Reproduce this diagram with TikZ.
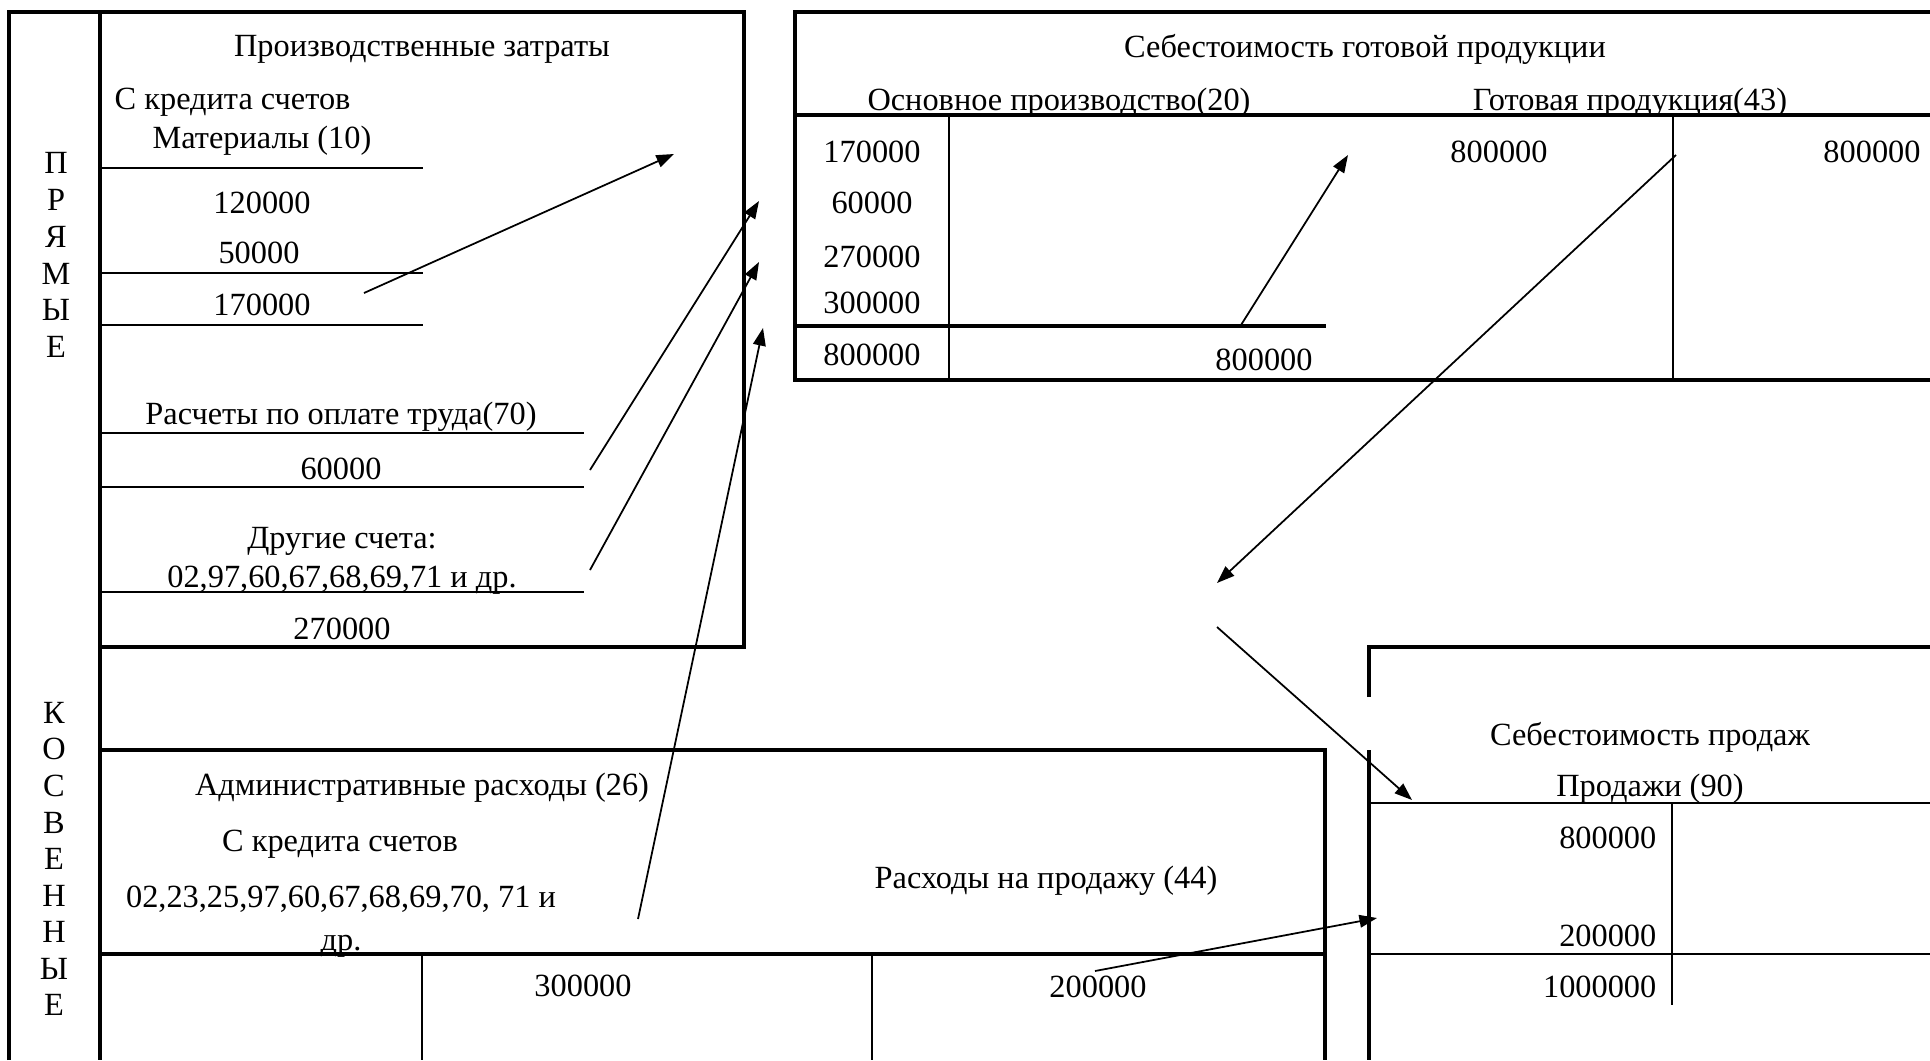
\documentclass[tikz,border=0pt]{standalone}
\usepackage{fontspec}
\setmainfont{Liberation Serif}
\usetikzlibrary{arrows.meta}

\begin{document}
\begin{tikzpicture}[x=0.01cm, y=-0.01cm,
  frame/.style={line width=0.9pt},
  rule/.style={line width=0.65pt},
  thin/.style={line width=0.45pt},
  flow/.style={line width=0.5pt, -{Triangle[length=5pt,width=3.6pt]}},
  txt/.style={inner sep=0pt, font=\fontsize{9.2}{10.5}\selectfont}]
\useasboundingbox (0,0) rectangle (1930,1060);

% frames
\draw[frame] (9,1060) -- (9,12) -- (744,12) -- (744,647) -- (100,647);
\draw[frame] (100,12) -- (100,1060);
\draw[frame] (100,750) -- (1325,750) -- (1325,1060);
\draw[frame] (100,954) -- (1325,954);
\draw[frame] (1930,12) -- (795,12) -- (795,380) -- (1930,380);
\draw[frame] (795,115) -- (1930,115);
\draw[frame] (795,326) -- (1326,326);
\draw[frame] (1369,697) -- (1369,647) -- (1930,647);
\draw[frame] (1369,750) -- (1369,1060);

% inner rules
\draw[rule] (100,168) -- (423,168);
\draw[rule] (100,273) -- (423,273);
\draw[rule] (100,325) -- (423,325);
\draw[rule] (100,433) -- (584,433);
\draw[rule] (100,487) -- (584,487);
\draw[rule] (100,592) -- (584,592);
\draw[rule] (1369,803) -- (1930,803);
\draw[rule] (1369,954) -- (1930,954);
\draw[rule] (1672,803) -- (1672,1005);
\draw[thin] (422,954) -- (422,1060);
\draw[thin] (872,954) -- (872,1060);
\draw[thin] (949,115) -- (949,380);
\draw[thin] (1673,115) -- (1673,380);

% side labels
\node[txt, align=center, font=\fontsize{9.2}{10.47}\selectfont] (direct) at (56,255) {П\\Р\\Я\\М\\Ы\\Е};
\node[txt, align=center, font=\fontsize{9.2}{10.4}\selectfont] (indirect) at (54,859) {К\\О\\С\\В\\Е\\Н\\Н\\Ы\\Е};

% production costs
\node[txt] (prod) at (422,49) {Производственные затраты};
\node[txt, anchor=west] (credit) at (114,102) {С кредита счетов};
\node[txt] (mat) at (262,141) {Материалы (10)};
\node[txt] (mat1) at (262,203) {120000};
\node[txt] (mat2) at (259,253) {50000};
\node[txt] (mat3) at (262,305) {170000};
\node[txt] (pay) at (341,417) {Расчеты по оплате труда(70)};
\node[txt] (pay1) at (341,469) {60000};
\node[txt, align=center, font=\fontsize{9.2}{11.1}\selectfont] (other) at (342,561) {Другие счета:\\02,97,60,67,68,69,71 и др.};
\node[txt] (other1) at (342,629) {270000};

% administrative and selling expenses
\node[txt] (adm) at (422,788) {Административные расходы (26)};
\node[txt] (admcr) at (340,844) {С кредита счетов};
\node[txt, align=center, font=\fontsize{9.2}{12.2}\selectfont] (admacc) at (341,922) {02,23,25,97,60,67,68,69,70, 71 и\\др.};
\node[txt] (sell) at (1046,881) {Расходы на продажу (44)};
\node[txt] (adm1) at (583,986) {300000};
\node[txt] (sell1) at (1098,987) {200000};

% cost of finished goods
\node[txt] (cfg) at (1365,49) {Себестоимость готовой продукции};
\node[txt] (main) at (1059,103) {Основное производство(20)};
\node[txt] (fin) at (1630,103) {Готовая продукция(43)};
\node[txt] (main1) at (872,152) {170000};
\node[txt] (main2) at (872,203) {60000};
\node[txt] (main3) at (872,257) {270000};
\node[txt] (main4) at (872,303) {300000};
\node[txt] (mainsum) at (872,355) {800000};
\node[txt] (mainout) at (1264,360) {800000};
\node[txt] (fin1) at (1499,152) {800000};
\node[txt] (fin2) at (1872,152) {800000};

% cost of sales
\node[txt] (cos) at (1650,737) {Себестоимость продаж};
\node[txt] (sales) at (1650,789) {Продажи (90)};
\node[txt, anchor=east] (sales1) at (1657,838) {800000};
\node[txt, anchor=east] (sales2) at (1657,936) {200000};
\node[txt, anchor=east] (salessum) at (1657,987) {1000000};

% arrow ends
\coordinate (matA) at (364,293);
\coordinate (matB) at (674,154);
\coordinate (payA) at (590,470);
\coordinate (payB) at (759,201);
\coordinate (otherA) at (590,570);
\coordinate (otherB) at (759,262);
\coordinate (admA) at (638,919);
\coordinate (admB) at (763,328);
\coordinate (mainA) at (1241,325);
\coordinate (mainB) at (1348,155);
\coordinate (finA) at (1676,155);
\coordinate (finB) at (1217,583);
\coordinate (cosA) at (1217,627);
\coordinate (cosB) at (1412,800);
\coordinate (sellA) at (1095,971);
\coordinate (sellB) at (1377,918);

\draw[flow] (matA) -- (matB);
\draw[flow] (payA) -- (payB);
\draw[flow] (otherA) -- (otherB);
\draw[flow] (admA) -- (admB);
\draw[flow] (mainA) -- (mainB);
\draw[flow] (finA) -- (finB);
\draw[flow] (cosA) -- (cosB);
\draw[flow] (sellA) -- (sellB);
\end{tikzpicture}
\end{document}
